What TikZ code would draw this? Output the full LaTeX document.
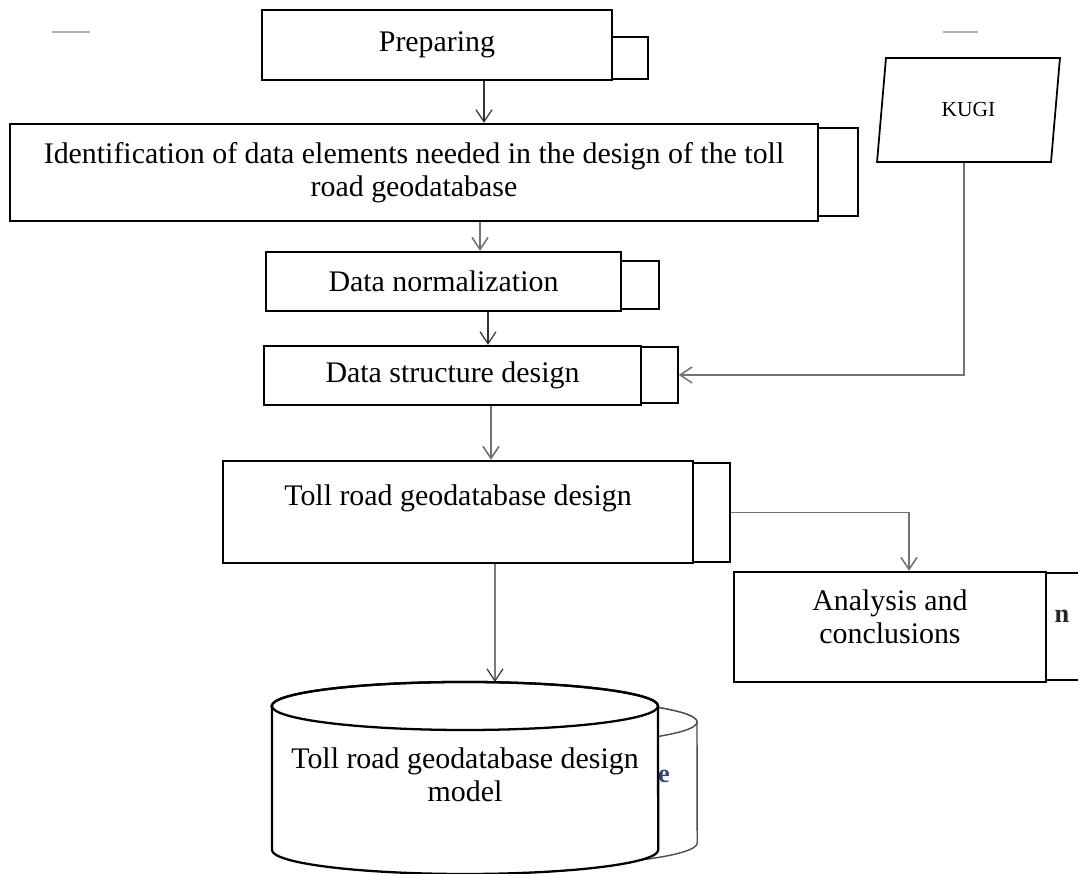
\documentclass[tikz,border=0pt]{standalone}
\usepackage{fontspec}
\setmainfont{Liberation Serif}
\usetikzlibrary{positioning, calc, arrows.meta, shapes.geometric}
\tikzset{wire/.style={draw=black!55, line width=0.45pt, -{Straight Barb[length=1.2mm, width=1.6mm]}}}

\begin{document}
\begin{tikzpicture}[x=0.01cm, y=-0.01cm, font=\fontsize{8.5}{9.4}\selectfont,
    box/.style={draw, line width=0.65pt, fill=white, inner sep=0pt, align=center},
    back/.style={draw, line width=0.4pt, fill=white, inner sep=0pt},
    link/.style={wire, draw=black!80, line width=0.35pt},
    small/.style={font=\fontsize{6.1}{6.5}\selectfont},
    stray/.style={font=\fontsize{7.5}{8}\selectfont\bfseries}]
    \useasboundingbox (0, 0) rectangle (1078, 874);
    \draw[black!30, line width=0.6pt] (52, 32) -- (90, 32);
    \draw[black!30, line width=0.6pt] (943, 32) -- (978, 32);
    \node[back, minimum width=0.88cm, minimum height=0.42cm] (prepback) at (604, 58) {};
    \node[box, minimum width=3.5cm, minimum height=0.7cm] (prep) at (437, 45) {Preparing};
    \node[back, minimum width=0.98cm, minimum height=0.88cm] (identback) at (809, 172) {};
    \node[box, minimum width=8.08cm, minimum height=0.97cm] (ident) at (414, 172.5)
        {Identification of data elements needed in the design of the toll\\road geodatabase};
    \node[back, minimum width=0.79cm, minimum height=0.48cm] (normback) at (619.5, 285) {};
    \node[box, minimum width=3.55cm, minimum height=0.59cm] (norm) at (443.5, 281.5) {Data normalization};
    \node[back, minimum width=0.78cm, minimum height=0.56cm] (structback) at (639, 375) {};
    \node[box, minimum width=3.77cm, minimum height=0.59cm] (struct) at (452.5, 375.5) {Data structure design};
    \node[back, minimum width=0.9cm, minimum height=0.99cm] (tollback) at (685, 512.5) {};
    \node[box, minimum width=4.7cm, minimum height=1.02cm] (toll) at (458, 512) {Toll road geodatabase design\\\mbox{}};
    \node[back, minimum width=0.95cm, minimum height=1.07cm] (analysisback) at (1047.5, 626.5) {};
    \node[stray, text=black!85] (ntext) at (1062, 616) {n};
    \node[box, minimum width=3.12cm, minimum height=1.1cm] (analysis) at (890, 627) {};
    \node[align=center] (analysistext) at (890, 617) {Analysis and\\conclusions};
    \node[trapezium, draw, line width=0.5pt, fill=white, inner sep=0pt, trapezium left angle=78.6,
        trapezium right angle=101.4, trapezium stretches=true, minimum width=1.83cm,
        minimum height=1.04cm, small] (kugi) at (968.5, 110) {KUGI};
    \draw[back, draw=black!70, fill=white] (311, 722) -- (311, 843)
        arc[start angle=180, end angle=360, x radius=1.93cm, y radius=0.24cm] -- (697, 722)
        arc[start angle=0, end angle=180, x radius=1.93cm, y radius=0.24cm] -- cycle;
    \draw[back, draw=black!70] (504, 722) ellipse[x radius=1.93cm, y radius=0.24cm];
    \node[stray, text={rgb,255:red,55;green,70;blue,120}] (etext) at (664, 776) {e};
    \draw[line width=0.65pt, fill=white] (272, 706) -- (272, 850)
        arc[start angle=180, end angle=360, x radius=1.93cm, y radius=0.24cm] -- (658, 706)
        arc[start angle=0, end angle=180, x radius=1.93cm, y radius=0.24cm] -- cycle;
    \draw[line width=0.65pt] (465, 706) ellipse[x radius=1.93cm, y radius=0.24cm];
    \node[align=center] (db) at (465, 775) {Toll road geodatabase design\\model};
    \coordinate (dbtop) at (495, 682);
    \draw[link] ([xshift=4.7mm]prep.south) -- ([xshift=4.7mm]prep.south |- ident.north);
    \draw[wire] ([xshift=6.6mm]ident.south) -- ([xshift=6.6mm]ident.south |- norm.north);
    \draw[link] ([xshift=4.45mm]norm.south) -- ([xshift=4.45mm]norm.south |- struct.north);
    \draw[wire] ([xshift=3.85mm]struct.south) -- ([xshift=3.85mm]struct.south |- toll.north);
    \draw[link] ([xshift=3.7mm]toll.south) -- (dbtop);
    \draw[wire] (tollback.east) -| ([xshift=1.9mm]analysis.north);
    \draw[wire] (kugi.bottom side) |- (structback.east);
\end{tikzpicture}
\end{document}
